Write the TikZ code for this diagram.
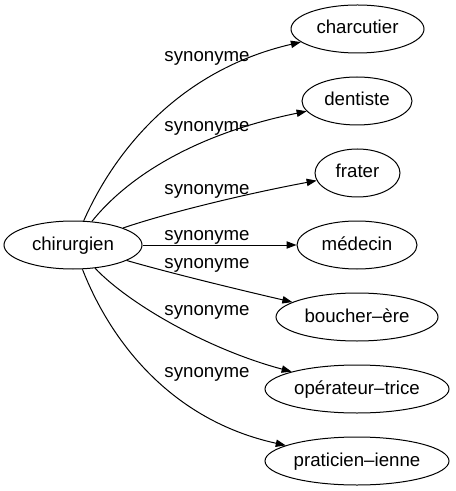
\documentclass[tikz,border=0pt]{standalone}
\usepackage{fontspec}
\setmainfont{Liberation Sans}
\usetikzlibrary{arrows.meta,shapes.geometric}
\begin{document}
\begin{tikzpicture}[x=0.75pt,y=-0.75pt,
  word/.style={ellipse,draw,line width=0.75pt,inner sep=0pt,minimum height=36pt,
    text height=10pt,text depth=2.5pt,font=\fontsize{14pt}{16pt}\selectfont},
  lbl/.style={anchor=base,inner sep=0pt,font=\fontsize{14pt}{16pt}\selectfont},
  edge/.style={line width=0.75pt,-{Triangle[length=7.5pt,width=5.5pt]}}]
\useasboundingbox (0,0) rectangle (455,491);
\node[word,minimum width=103.5pt] (chir) at (73,245) {chirurgien};
\node[word,minimum width=99.75pt] (charc) at (357.5,29) {charcutier};
\node[word,minimum width=82.5pt] (dent) at (357,101) {dentiste};
\node[word,minimum width=63.75pt] (frat) at (357.5,173) {frater};
\node[word,minimum width=90pt] (med) at (357,245) {médecin};
\node[word,minimum width=121.5pt] (bouch) at (357,317) {boucher–ère};
\node[word,minimum width=138pt] (oper) at (357,389) {opérateur–trice};
\node[word,minimum width=138pt] (prat) at (357,461) {praticien–ienne};

\draw[edge] (chir) .. controls (115,150) and (180,70) .. (charc);
\draw[edge] (chir) .. controls (125,180) and (190,135) .. (dent);
\draw[edge] (chir) .. controls (170,212) and (250,193) .. (frat);
\draw[edge] (chir) -- (med);
\draw[edge] (chir) .. controls (170,273) and (240,290) .. (bouch);
\draw[edge] (chir) .. controls (130,305) and (210,350) .. (oper);
\draw[edge] (chir) .. controls (110,340) and (170,420) .. (prat);

\node[lbl] (l1) at (207,62) {synonyme};
\node[lbl] (l2) at (207,132) {synonyme};
\node[lbl] (l3) at (207,195) {synonyme};
\node[lbl] (l4) at (207,240) {synonyme};
\node[lbl] (l5) at (207,268) {synonyme};
\node[lbl] (l6) at (207,315) {synonyme};
\node[lbl] (l7) at (207,377) {synonyme};
\end{tikzpicture}
\end{document}
